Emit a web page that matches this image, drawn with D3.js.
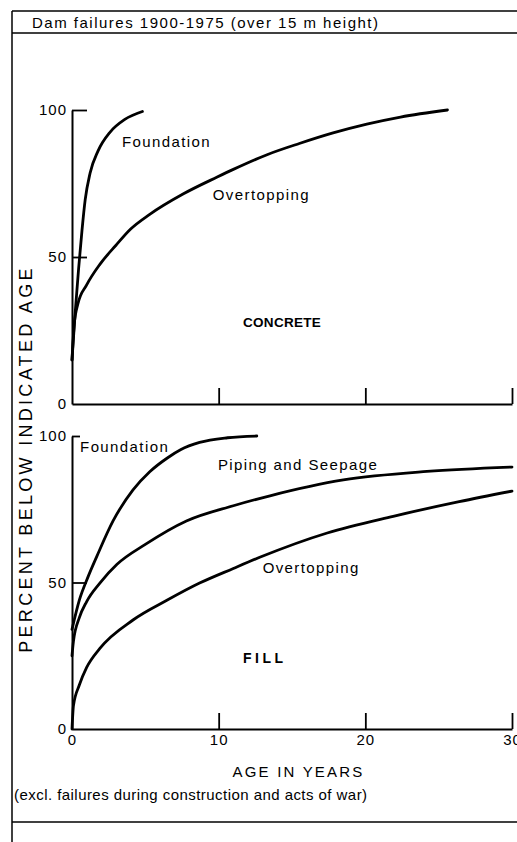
<!DOCTYPE html>
<html>
<head>
<meta charset="utf-8">
<script src="https://cdn.jsdelivr.net/npm/d3@7"></script>
<style>
  html, body { margin: 0; padding: 0; background: #fff; overflow: hidden; }
  svg { display: block; }
  text { font-family: "Liberation Sans", Arial, sans-serif; fill: #000; }
</style>
</head>
<body>
<svg id="chart" width="517" height="842"></svg>
<script>
// ---- text ----
const titleText = "Dam failures 1900-1975 (over 15 m height)";
const footnoteText = "(excl. failures during construction and acts of war)";
const yAxisTitle = "PERCENT BELOW INDICATED AGE";
const xAxisTitle = "AGE IN YEARS";
const panelNames = ["CONCRETE", "FILL"];

// ---- ticks ----
const yTicks = [0, 50, 100];
const xTicks = [0, 10, 20, 30];

// ---- cumulative failure curves: [age in years, percent below that age] ----
const concreteFoundation = [
  [0, 15], [0.2, 30], [0.45, 46], [0.68, 59], [0.9, 69.5], [1.23, 78.5],
  [1.77, 86], [2.6, 92.5], [3.6, 96.8], [4.8, 99.5]
];
const concreteOvertopping = [
  [0, 15], [0.15, 27], [0.4, 34], [1.0, 40.5], [1.9, 47.5], [3.0, 54],
  [4.0, 59.5], [5.3, 64.5], [7.6, 71.5], [9.9, 77.2], [11, 79.8],
  [13.3, 84.8], [15.5, 88.6], [17.8, 92.2], [20.1, 95.2], [22.4, 97.6], [25.6, 100]
];
const fillFoundation = [
  [0, 34], [0.5, 44], [1.1, 52], [1.7, 59], [2.8, 71], [4.16, 81.6],
  [5.3, 87.8], [6.5, 92.5], [7.4, 95.3], [8.7, 97.8], [10.6, 99.4], [12.6, 100]
];
const fillPiping = [
  [0, 25], [0.1, 30], [0.5, 38], [1.0, 43.5], [1.9, 49.8], [3.07, 56.2],
  [5, 63], [7.8, 71], [11, 76.2], [13.5, 79.6], [18.5, 85], [24.2, 87.9], [30, 89.4]
];
const fillOvertopping = [
  [0, 0], [0.1, 8], [0.5, 15], [1.0, 21], [1.9, 27.5], [4.16, 37.2],
  [6.5, 44], [8.7, 49.8], [11, 54.8], [12.8, 58.6], [17.4, 66.9],
  [21.9, 72.6], [26.4, 77.6], [30, 81.2]
];

// ---- layout ----
const svg = d3.select("#chart");
const W = 517, H = 842;
const plotLeft = 72, plotRight = 512;

const x = d3.scaleLinear().domain([0, 30]).range([plotLeft, plotRight]);
const panels = [
  { name: panelNames[0], y: d3.scaleLinear().domain([0, 100]).range([404, 110]), labels: false },
  { name: panelNames[1], y: d3.scaleLinear().domain([0, 100]).range([729, 436]), labels: true }
];

// ---- frame ----
const frame = svg.append("g").attr("stroke", "#000").attr("fill", "none");
frame.append("line").attr("x1", 12).attr("x2", 12).attr("y1", 11).attr("y2", H).attr("stroke-width", 1.5);
frame.append("line").attr("x1", 12).attr("x2", W).attr("y1", 11).attr("y2", 11).attr("stroke-width", 1.3);
frame.append("line").attr("x1", 12).attr("x2", W).attr("y1", 33).attr("y2", 33).attr("stroke-width", 1.5);
frame.append("line").attr("x1", 12).attr("x2", W).attr("y1", 822).attr("y2", 822).attr("stroke-width", 1.5);

svg.append("text").attr("x", 32).attr("y", 27.5)
  .style("font-size", "15px").style("letter-spacing", "1.5px")
  .text(titleText);

// ---- axes ----
function styleAxis(g) {
  g.select(".domain").attr("stroke", "#000").attr("stroke-width", 2);
  g.selectAll(".tick line").attr("stroke", "#000").attr("stroke-width", 1.8);
  g.selectAll(".tick text")
    .style("font-family", "'Liberation Sans', Arial, sans-serif")
    .style("font-size", "15px").style("letter-spacing", "1px").attr("fill", "#000");
}

panels.forEach((p, i) => {
  const g = svg.append("g");

  const yAxis = d3.axisLeft(p.y).tickValues(yTicks).tickSize(-15).tickSizeOuter(0)
    .tickPadding(5).tickFormat(d3.format("d"));
  g.append("g").attr("transform", `translate(${plotLeft},0)`).call(yAxis).call(styleAxis)
    .call(a => a.selectAll(".tick").filter(d => d === 0).select("line").remove());
  if (i === 1) {
    g.selectAll(".tick").filter(d => d === 100).select("line").attr("x2", 8);
  }

  const xAxis = d3.axisBottom(x).tickValues(xTicks).tickSize(-16).tickSizeOuter(0)
    .tickPadding(5).tickFormat(p.labels ? d3.format("d") : "");
  g.append("g").attr("transform", `translate(0,${p.y(0)})`).call(xAxis).call(styleAxis)
    .call(a => a.selectAll(".tick").filter(d => d === 0).select("line").remove());

  p.g = g;
});

// ---- curves ----
function drawCurve(panel, data) {
  const line = d3.line().x(d => x(d[0])).y(d => panel.y(d[1])).curve(d3.curveMonotoneX);
  panel.g.append("path").datum(data).attr("d", line)
    .attr("fill", "none").attr("stroke", "#000").attr("stroke-width", 2.8)
    .attr("stroke-linecap", "round").attr("stroke-linejoin", "round");
}
drawCurve(panels[0], concreteFoundation);
drawCurve(panels[0], concreteOvertopping);
drawCurve(panels[1], fillFoundation);
drawCurve(panels[1], fillPiping);
drawCurve(panels[1], fillOvertopping);

// ---- curve and panel labels ----
function label(panel, age, pct, txt, opts = {}) {
  panel.g.append("text")
    .attr("x", x(age)).attr("y", panel.y(pct))
    .style("font-size", opts.size || "15px")
    .style("font-weight", opts.weight || "normal")
    .style("letter-spacing", opts.spacing || "1.4px")
    .text(txt);
}
label(panels[0], 3.41, 87.4, "Foundation");
label(panels[0], 9.6, 69.4, "Overtopping");
label(panels[0], 11.66, 26.2, panels[0].name, { weight: "bold", size: "13.5px", spacing: "0.3px" });
label(panels[1], 0.55, 94.5, "Foundation");
label(panels[1], 9.95, 88.4, "Piping and Seepage");
label(panels[1], 13.0, 53.2, "Overtopping");
label(panels[1], 11.66, 22.5, panels[1].name, { weight: "bold", size: "14px", spacing: "3.5px" });

// ---- axis titles and footnote ----
svg.append("text")
  .attr("transform", "translate(32,459) rotate(-90)")
  .attr("text-anchor", "middle")
  .style("font-size", "18px").style("letter-spacing", "3.3px")
  .text(yAxisTitle);

svg.append("text").attr("x", 298.5).attr("y", 777).attr("text-anchor", "middle")
  .style("font-size", "15px").style("letter-spacing", "2.2px")
  .text(xAxisTitle);

svg.append("text").attr("x", 14).attr("y", 800)
  .style("font-size", "15px").style("letter-spacing", "0.45px")
  .text(footnoteText);
</script>
</body>
</html>
